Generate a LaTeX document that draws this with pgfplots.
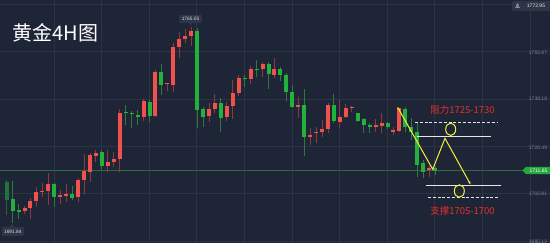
\documentclass[border=0pt]{standalone}
\usepackage{pgfplots}
\pgfplotsset{compat=1.18}
\usepackage{pgfplotstable}
\usepackage{fontspec}
\setmainfont{Liberation Sans}
\newfontfamily\cjk{Noto Sans CJK SC}
\usetikzlibrary{arrows.meta}
\definecolor{bg}{HTML}{1E2537}
\definecolor{gridc}{HTML}{2C3345}
\definecolor{upc}{HTML}{F0524B}
\definecolor{dnc}{HTML}{22B23C}
\definecolor{upw}{HTML}{8C3A40}
\definecolor{dnw}{HTML}{2E7A3E}
\definecolor{lblc}{HTML}{7E8596}
\definecolor{boxc}{HTML}{2E3547}
\definecolor{tagg}{HTML}{25A83C}
\definecolor{yel}{HTML}{F2F23A}
\definecolor{annr}{HTML}{E8302A}
\definecolor{pline}{HTML}{2F6B3C}
\definecolor{lvl}{HTML}{E6E6E6}

% red = rising candles
\pgfplotstableread{
i o h l c
4 1696.29 1698.16 1695.16 1697.30
5 1697.52 1701.15 1693.29 1700.14
6 1700.14 1705.37 1697.89 1703.39
7 1703.39 1706.87 1701.41 1703.77
8 1703.88 1710.61 1698.53 1706.27
10 1701.63 1704.14 1698.90 1702.38
11 1702.01 1706.38 1699.76 1702.53
13 1701.41 1708.51 1699.76 1707.88
14 1707.88 1717.60 1702.64 1711.25
15 1710.98 1717.98 1707.24 1717.23
16 1716.86 1719.10 1714.61 1718.09
18 1713.12 1719.10 1710.98 1714.72
19 1714.72 1718.47 1712.85 1715.62
20 1715.62 1734.32 1710.98 1732.83
24 1731.55 1738.06 1730.06 1737.43
26 1731.82 1749.02 1731.55 1748.38
28 1743.67 1744.27 1741.28 1744.05
29 1743.41 1759.23 1740.90 1757.73
30 1757.73 1763.34 1753.40 1760.50
31 1760.50 1764.24 1759.01 1761.81
32 1761.74 1765.05 1758.00 1763.61
35 1731.82 1736.57 1729.68 1734.43
36 1734.32 1740.04 1733.05 1736.57
38 1731.33 1737.16 1730.06 1735.56
39 1735.56 1745.28 1730.58 1740.31
40 1740.53 1747.15 1739.30 1745.92
42 1745.54 1750.52 1743.67 1749.39
44 1749.28 1752.12 1746.51 1751.15
46 1747.15 1753.51 1746.03 1749.39
50 1735.29 1738.81 1730.96 1735.93
52 1724.07 1727.22 1720.97 1724.82
53 1725.35 1727.81 1721.61 1725.94
54 1725.72 1730.32 1723.85 1727.07
55 1726.95 1736.79 1725.35 1735.93
57 1729.68 1737.80 1727.22 1731.33
58 1731.33 1736.19 1730.96 1734.92
59 1734.70 1735.67 1733.42 1735.29
63 1727.81 1730.58 1725.95 1728.45
64 1728.08 1732.83 1725.35 1729.09
66 1725.94 1727.81 1724.71 1726.58
67 1726.32 1734.90 1725.94 1734.70
72 1711.62 1713.12 1709.00 1712.37
}\upt

% green = falling candles
\pgfplotstableread{
i o h l c
2 1700.77 1707.51 1691.84 1696.29
3 1696.66 1698.90 1693.29 1696.02
9 1706.27 1706.87 1697.89 1701.63
12 1702.53 1705.64 1700.40 1701.26
17 1718.24 1719.10 1711.62 1713.12
21 1733.31 1735.93 1728.45 1732.94
22 1732.83 1733.80 1727.22 1732.45
23 1732.19 1734.06 1728.45 1731.55
25 1736.94 1737.80 1729.68 1731.82
27 1748.38 1751.15 1739.67 1743.41
33 1763.72 1764.62 1727.22 1734.06
34 1734.43 1735.29 1727.59 1731.33
37 1736.79 1738.44 1725.72 1731.18
41 1746.14 1747.15 1742.77 1745.77
43 1749.39 1752.76 1746.29 1749.02
45 1751.15 1752.12 1741.91 1747.41
47 1749.39 1750.03 1745.02 1747.15
48 1747.15 1747.79 1737.54 1740.90
49 1740.90 1743.41 1734.92 1735.29
51 1735.93 1741.80 1716.97 1724.07
56 1735.93 1739.93 1729.09 1729.95
60 1732.83 1733.05 1729.68 1730.06
61 1730.58 1730.96 1725.57 1728.34
62 1728.45 1729.09 1725.35 1727.81
65 1729.09 1729.68 1726.84 1727.59
68 1734.62 1735.18 1725.83 1727.59
69 1727.70 1731.07 1722.84 1725.83
70 1725.94 1729.57 1709.00 1713.49
71 1714.24 1715.36 1708.63 1710.98
73 1712.37 1713.12 1709.75 1711.25
}\dnt

% first, faded candle
\pgfplotstableread{
i o h l c
1 1707.13 1707.88 1694.79 1700.40
}\fadet

\pgfplotsset{
  wick/.style={draw=#1, line width=1pt, mark=none, forget plot,
    quiver={u=0, v=\thisrow{h}-\thisrow{l}, every arrow/.append style={-}}},
  body/.style={draw=#1, line width=4pt, mark=none, forget plot,
    quiver={u=0, v={max(abs(\thisrow{c}-\thisrow{o}),0.4)}, every arrow/.append style={-}}},
}

\begin{document}
\begin{tikzpicture}[x=1pt,y=1pt]
\begin{axis}[
  at={(0,0)}, anchor=south west,
  width=550pt, height=243pt, scale only axis,
  xmin=-0.126, xmax=92.31, ymin=1684.33, ymax=1775.20,
  axis background/.style={fill=bg},
  axis line style={draw=none},
  major tick length=0pt,
  xtick={8.95,16.95,24.95,32.95,40.95,48.95,56.95,64.95,72.95,80.95,88.95},
  ytick={1685.12,1702.81,1720.49,1738.18,1755.87,1773.56},
  xticklabels={}, yticklabels={},
  grid=major,
  major grid style={draw=gridc, line width=0.7pt},
  clip mode=individual,
]
% last price line
\addplot[pline, line width=0.7pt, forget plot] coordinates {(-1,1711.65) (93,1711.65)};

% wicks
\addplot[wick=upw] table[x=i, y=l] {\upt};
\addplot[wick=dnw] table[x=i, y=l] {\dnt};
\addplot[wick=dnw!70!bg] table[x=i, y=l] {\fadet};
% bodies
\addplot[body=upc] table[x=i, y expr={min(\thisrow{o},\thisrow{c})}] {\upt};
\addplot[body=dnc] table[x=i, y expr={min(\thisrow{o},\thisrow{c})}] {\dnt};
\addplot[body=dnc!55!bg] table[x=i, y expr={min(\thisrow{o},\thisrow{c})}] {\fadet};

% resistance / support levels
\addplot[lvl, line width=1pt, dash pattern=on 3pt off 1.8pt, forget plot] coordinates {(69.62,1729.31) (83.57,1729.31)};
\addplot[lvl, line width=1pt, forget plot] coordinates {(69.96,1724.34) (82.39,1724.34)};
\addplot[lvl, line width=1pt, forget plot] coordinates {(71.42,1705.75) (84.03,1705.75)};
\addplot[lvl, line width=1pt, dash pattern=on 3pt off 1.8pt, forget plot] coordinates {(71.81,1701.27) (83.74,1701.27)};

% projected path
\addplot[yel, line width=1pt, forget plot, -{Latex[length=2.5pt,width=2.5pt]}] coordinates {(66.71,1735.07) (72.60,1711.89) (74.66,1723.48) (78.95,1706.27)};
\draw[yel, line width=1pt] (axis cs:75.62,1726.84) ellipse [x radius=5pt, y radius=6.2pt];
\draw[yel, line width=1pt] (axis cs:77.07,1703.77) ellipse [x radius=5pt, y radius=6.2pt];
\end{axis}

% title
\node[anchor=west, inner sep=0pt, text=white, font=\cjk\fontsize{20}{22}\selectfont] at (12.5,210.5) {黄金4H图};
% annotations
\node[inner sep=0pt, text=annr, font=\cjk\fontsize{9.5}{11}\selectfont] at (462.5,133.5) {阻力1725-1730};
\node[inner sep=0pt, text=annr, font=\cjk\fontsize{9.5}{11}\selectfont] at (462.5,32) {支撑1705-1700};

% right price labels
\begin{scope}[every node/.style={inner sep=0pt, text=lblc, font=\fontsize{5}{6}\selectfont}]
\node at (538,190.7) {1755.87};
\node at (538,144) {1738.18};
\node at (538,95) {1720.49};
\node at (538,49) {1702.81};
\node at (538,1.5) {1685.12};
\end{scope}
% top right box
\fill[boxc, rounded corners=1.5pt] (512,232) rectangle (552,242);
\fill[lblc] (516,235.5) -- (516.4,238.8) arc (180:0:1.1) -- (519,235.5) -- cycle;
\fill[lblc] (515.3,235) rectangle (519.7,235.6);
\node[inner sep=0pt, text=white!80!lblc, font=\fontsize{5}{6}\selectfont] at (536,237) {1772.95};
% last price tag
\fill[tagg] (522.5,72.5) -- (526,76.2) -- (552,76.2) -- (552,68.8) -- (526,68.8) -- cycle;
\node[inner sep=0pt, text=white, font=\fontsize{5}{6}\selectfont] at (538.5,72.5) {1711.65};
% high tag
\fill[boxc, rounded corners=1pt] (179,220) rectangle (202,228);
\fill[boxc] (188,220.2) -- (193,220.2) -- (190.5,217.5) -- cycle;
\node[inner sep=0pt, text=white!75!lblc, font=\fontsize{4.8}{6}\selectfont] at (190.5,224) {1765.05};
% low tag
\fill[boxc, rounded corners=1pt] (1.7,7) rectangle (24,16);
\fill[boxc] (9.5,15.8) -- (14.5,15.8) -- (12,18.8) -- cycle;
\node[inner sep=0pt, text=white!75!lblc, font=\fontsize{4.8}{6}\selectfont] at (12.8,11.5) {1691.84};

\pgfresetboundingbox
\useasboundingbox (0,0) rectangle (550,243);
\end{tikzpicture}
\end{document}
